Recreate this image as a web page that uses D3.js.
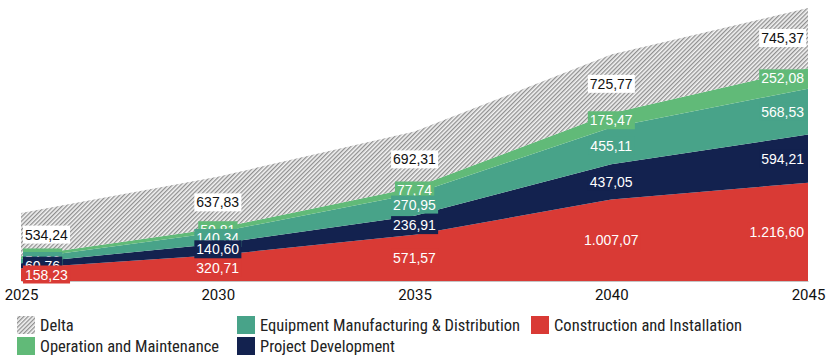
<!DOCTYPE html>
<html>
<head>
<meta charset="utf-8">
<script src="https://cdn.jsdelivr.net/npm/d3@7"></script>
<style>
  html, body { margin: 0; padding: 0; background: #fff; }
  svg { display: block; }
</style>
</head>
<body>
<svg id="chart" width="829" height="355"></svg>
<script>
// Years along the x axis
const years = [2025, 2030, 2035, 2040, 2045];

// Stacked series values (bottom to top)
const construction = [158.23, 320.71, 571.57, 1007.07, 1216.60];
const projectDev   = [60.76, 140.60, 236.91, 437.05, 594.21];
const equipment    = [54.66, 140.34, 270.95, 455.11, 568.53];
const operation    = [31.98, 50.81, 77.74, 175.47, 252.08];
const delta        = [534.24, 637.83, 692.31, 725.77, 745.37];

const seriesNames = ["Construction and Installation", "Project Development",
  "Equipment Manufacturing & Distribution", "Operation and Maintenance", "Delta"];
const seriesValues = [construction, projectDev, equipment, operation, delta];
const seriesColors = ["#d93a35", "#13224f", "#48a389", "#61ba78", "url(#hatch)"];
const labelFill = ["#d93a35", "#13224f", "#48a389", "#61ba78", "#ffffff"];
const labelText = ["#ffffff", "#ffffff", "#ffffff", "#ffffff", "#111111"];

// Legend order as laid out in two rows
const legendItems = [
  { name: "Delta", idx: 4, col: 0, row: 0 },
  { name: "Equipment Manufacturing & Distribution", idx: 2, col: 1, row: 0 },
  { name: "Construction and Installation", idx: 0, col: 2, row: 0 },
  { name: "Operation and Maintenance", idx: 3, col: 0, row: 1 },
  { name: "Project Development", idx: 1, col: 1, row: 1 }
];

const svg = d3.select("#chart");
const fmt = d3.formatLocale({ decimal: ",", thousands: ".", grouping: [3], currency: ["", ""] }).format(",.2f");

// Fine diagonal hatch for the Delta band
const defs = svg.append("defs");
const pat = defs.append("pattern")
  .attr("id", "hatch").attr("patternUnits", "userSpaceOnUse")
  .attr("width", 3).attr("height", 3)
  .attr("patternTransform", "rotate(45)");
pat.append("rect").attr("width", 3).attr("height", 3).attr("fill", "#f4f4f4");
pat.append("rect").attr("width", 1.3).attr("height", 3).attr("fill", "#8f8f8f");

const table = years.map((yr, i) => {
  const row = { year: yr };
  seriesNames.forEach((n, k) => row[n] = seriesValues[k][i]);
  return row;
});
const stacked = d3.stack().keys(seriesNames)(table);

const x = d3.scaleLinear().domain(d3.extent(years)).range([21, 808]);
const yMax = d3.max(stacked[stacked.length - 1], d => d[1]);
const y = d3.scaleLinear().domain([0, yMax]).range([281, 8]);

const area = d3.area()
  .x(d => x(d.data.year))
  .y0(d => y(d[0]))
  .y1(d => y(d[1]));

svg.append("g").selectAll("path")
  .data(stacked)
  .join("path")
  .attr("d", area)
  .attr("fill", (d, i) => seriesColors[i]);

// x axis
const xAxis = d3.axisBottom(x).tickValues(years).tickFormat(d3.format("d")).tickSize(0).tickPadding(8);
const gx = svg.append("g").attr("transform", "translate(0,281)").call(xAxis);
gx.select(".domain").attr("stroke", "#c4c4c4").attr("stroke-width", 1.2);
gx.selectAll("text").attr("font-family", "Roboto, 'Liberation Sans', sans-serif")
  .attr("font-size", 15).attr("fill", "#111");

// Value labels, drawn top series first so lower series sit above
const labelsG = svg.append("g").attr("font-family", "'Liberation Sans', Arial, sans-serif").attr("font-size", 14);
for (let k = stacked.length - 1; k >= 0; k--) {
  stacked[k].forEach((d, i) => {
    const cx = x(d.data.year);
    const cy = (y(d[0]) + y(d[1])) / 2;
    const g = labelsG.append("g");
    const t = g.append("text")
      .text(fmt(d[1] - d[0]))
      .attr("fill", labelText[k])
      .attr("dy", "0.35em")
      .attr("y", cy);
    if (i === 0) t.attr("x", cx + 4).attr("text-anchor", "start");
    else if (i === years.length - 1) t.attr("x", cx - 4).attr("text-anchor", "end");
    else t.attr("x", cx).attr("text-anchor", "middle");
    const bb = t.node().getBBox();
    g.insert("rect", "text")
      .attr("x", bb.x - 2).attr("y", bb.y - 1)
      .attr("width", bb.width + 4).attr("height", bb.height + 2)
      .attr("fill", labelFill[k]);
  });
}

// Legend
const colX = [17, 237, 531];
const rowY = [325, 346];
const leg = svg.append("g").attr("font-family", "'Liberation Sans Narrow', 'Roboto Condensed', sans-serif").attr("font-size", 16.5);
legendItems.forEach(it => {
  const gx0 = colX[it.col], gy = rowY[it.row];
  leg.append("rect").attr("x", gx0).attr("y", gy - 9).attr("width", 18).attr("height", 18)
    .attr("fill", seriesColors[it.idx]);
  leg.append("text").attr("x", gx0 + 23).attr("y", gy).attr("dy", "0.35em")
    .attr("fill", "#222").text(it.name);
});
</script>
</body>
</html>
